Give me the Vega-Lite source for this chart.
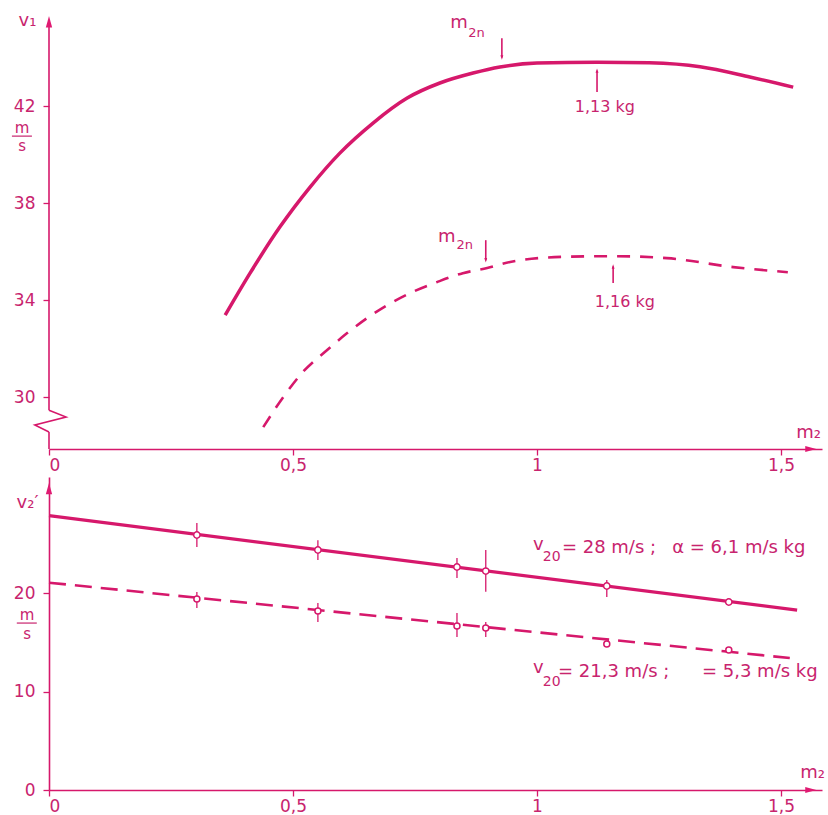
{
  "$schema": "https://vega.github.io/schema/vega-lite/v6.json",
  "padding": {"left": 11, "top": 10, "right": 0, "bottom": 0},
  "spacing": 28,
  "bounds": "flush",
  "config": {
    "view": {"stroke": null},
    "font": "DejaVu Sans",
    "axis": {
      "grid": false,
      "domainColor": "#d6186b",
      "domainWidth": 1.6,
      "tickColor": "#d6186b",
      "tickWidth": 1.3,
      "tickSize": 6,
      "labelColor": "#c8246e",
      "labelFont": "DejaVu Sans",
      "labelFontSize": 17,
      "titleColor": "#c8246e",
      "titleFont": "DejaVu Sans",
      "titleFontSize": 18,
      "titleFontWeight": "normal"
    },
    "text": {"color": "#c8246e", "font": "DejaVu Sans", "fontSize": 15}
  },
  "datasets": {
    "topSolid": [
      {"m2": 0.361, "v": 33.38}, {"m2": 0.412, "v": 35.11}, {"m2": 0.473, "v": 37.01},
      {"m2": 0.535, "v": 38.66}, {"m2": 0.596, "v": 40.06}, {"m2": 0.664, "v": 41.3},
      {"m2": 0.734, "v": 42.33}, {"m2": 0.801, "v": 42.95}, {"m2": 0.869, "v": 43.36},
      {"m2": 0.924, "v": 43.61}, {"m2": 1.0, "v": 43.77}, {"m2": 1.123, "v": 43.81},
      {"m2": 1.23, "v": 43.78}, {"m2": 1.334, "v": 43.62}, {"m2": 1.436, "v": 43.2},
      {"m2": 1.525, "v": 42.78}
    ],
    "topDashed": [
      {"m2": 0.439, "v": 28.76}, {"m2": 0.48, "v": 30.0}, {"m2": 0.52, "v": 31.03},
      {"m2": 0.57, "v": 31.94}, {"m2": 0.611, "v": 32.64}, {"m2": 0.652, "v": 33.26},
      {"m2": 0.693, "v": 33.79}, {"m2": 0.74, "v": 34.29}, {"m2": 0.795, "v": 34.74},
      {"m2": 0.848, "v": 35.11}, {"m2": 0.898, "v": 35.32}, {"m2": 0.945, "v": 35.57},
      {"m2": 1.05, "v": 35.78}, {"m2": 1.156, "v": 35.81}, {"m2": 1.266, "v": 35.73},
      {"m2": 1.402, "v": 35.36}, {"m2": 1.514, "v": 35.15}
    ],
    "topAxisSegments": [
      {"m2": 0, "v": 29.46, "v2": 45.5},
      {"m2": 0, "v": 27.86, "v2": 28.56}
    ],
    "zigzag": [
      {"i": 1, "m2": 0, "v": 29.46}, {"i": 2, "m2": 0.035, "v": 29.18},
      {"i": 3, "m2": -0.029, "v": 28.85}, {"i": 4, "m2": 0, "v": 28.56}
    ],
    "topArrowShafts": [
      {"m2": 0.928, "v": 44.8, "v2": 44.0},
      {"m2": 1.123, "v": 42.58, "v2": 43.46},
      {"m2": 0.895, "v": 36.47, "v2": 35.64},
      {"m2": 1.156, "v": 34.7, "v2": 35.38}
    ],
    "topHeadsDown": [{"m2": 0.928, "v": 44.0}, {"m2": 0.895, "v": 35.64}],
    "topHeadsUp": [{"m2": 1.123, "v": 43.46}, {"m2": 1.156, "v": 35.38}],
    "topM": [
      {"m2": 0.822, "v": 45.42, "t": "m"},
      {"m2": 0.797, "v": 36.6, "t": "m"}
    ],
    "topMSub": [
      {"m2": 0.859, "v": 45.01, "t": "2n"},
      {"m2": 0.835, "v": 36.27, "t": "2n"}
    ],
    "topLabels": [
      {"m2": 1.139, "v": 41.96, "t": "1,13 kg"},
      {"m2": 1.18, "v": 33.92, "t": "1,16 kg"}
    ],
    "topUnit": [
      {"m2": -0.055, "v": 41.09, "t": "m"},
      {"m2": -0.055, "v": 40.35, "t": "s"}
    ],
    "topUnitBar": [{"m2": -0.076, "m2b": -0.035, "v": 40.76}],
    "topYArrow": [{"m2": 0, "v": 45.48}],
    "topXArrow": [{"m2": 1.561, "v": 27.86}],
    "botSolidLine": [{"m2": 0, "v": 27.85}, {"m2": 1.533, "v": 18.27}],
    "botDashedLine": [{"m2": 0, "v": 21.05}, {"m2": 1.518, "v": 13.4}],
    "botSolidPts": [
      {"m2": 0.303, "v": 25.89, "lo": 24.67, "hi": 27.1},
      {"m2": 0.551, "v": 24.37, "lo": 23.35, "hi": 25.35},
      {"m2": 0.836, "v": 22.64, "lo": 21.52, "hi": 23.55},
      {"m2": 0.895, "v": 22.23, "lo": 20.13, "hi": 24.37},
      {"m2": 1.143, "v": 20.71, "lo": 19.6, "hi": 21.32},
      {"m2": 1.393, "v": 19.09, "lo": 19.09, "hi": 19.09}
    ],
    "botDashedPts": [
      {"m2": 0.303, "v": 19.39, "lo": 18.48, "hi": 20.1},
      {"m2": 0.551, "v": 18.17, "lo": 17.06, "hi": 18.98},
      {"m2": 0.836, "v": 16.65, "lo": 15.53, "hi": 17.97},
      {"m2": 0.895, "v": 16.45, "lo": 15.53, "hi": 17.06},
      {"m2": 1.143, "v": 14.82, "lo": 14.82, "hi": 14.82},
      {"m2": 1.393, "v": 14.21, "lo": 14.21, "hi": 14.21}
    ],
    "botV": [
      {"m2": 0.992, "v": 24.87, "t": "v"},
      {"m2": 0.992, "v": 12.39, "t": "v"}
    ],
    "botVSub": [
      {"m2": 1.012, "v": 23.65, "t": "20"},
      {"m2": 1.012, "v": 10.96, "t": "20"}
    ],
    "botLabels": [
      {"m2": 1.051, "v": 24.57, "t": "= 28 m/s ;"},
      {"m2": 1.277, "v": 24.57, "t": "α = 6,1 m/s kg"},
      {"m2": 1.043, "v": 11.98, "t": "= 21,3 m/s ;"},
      {"m2": 1.338, "v": 11.98, "t": "= 5,3 m/s kg"}
    ],
    "botUnit": [
      {"m2": -0.045, "v": 17.8, "t": "m"},
      {"m2": -0.045, "v": 15.84, "t": "s"}
    ],
    "botUnitBar": [{"m2": -0.066, "m2b": -0.025, "v": 16.95}],
    "botYArrow": [{"m2": 0, "v": 30.6}],
    "botXArrow": [{"m2": 1.561, "v": 0}]
  },
  "vconcat": [
    {
      "width": 773,
      "height": 439,
      "encoding": {
        "x": {
          "field": "m2", "type": "quantitative",
          "scale": {"domain": [0, 1.584], "nice": false, "zero": false},
          "axis": {
            "values": [0, 0.5, 1, 1.5],
            "labelExpr": "replace(format(datum.value, '~g'), '.', ',')",
            "labelPadding": 2,
            "title": "m₂",
            "titleX": 759, "titleY": -17, "titleAlign": "center", "titleBaseline": "middle"
          }
        },
        "y": {
          "field": "v", "type": "quantitative",
          "scale": {"domain": [27.86, 45.96], "nice": false, "zero": false},
          "axis": {
            "values": [30, 34, 38, 42],
            "domain": false,
            "labelPadding": 8,
            "title": "v₁",
            "titleAngle": 0, "titleX": -22, "titleY": 10, "titleAlign": "center", "titleBaseline": "middle"
          }
        }
      },
      "layer": [
        {"data": {"name": "topAxisSegments"}, "mark": {"type": "rule", "color": "#d6186b", "strokeWidth": 1.6}, "encoding": {"y2": {"field": "v2"}}},
        {"data": {"name": "zigzag"}, "mark": {"type": "line", "color": "#d6186b", "strokeWidth": 1.6}, "encoding": {"order": {"field": "i", "type": "quantitative"}}},
        {"data": {"name": "topSolid"}, "mark": {"type": "line", "color": "#d6186b", "strokeWidth": 3.5, "interpolate": "monotone"}, "encoding": {}},
        {"data": {"name": "topDashed"}, "mark": {"type": "line", "color": "#d6186b", "strokeWidth": 2.6, "strokeDash": [13, 10], "interpolate": "monotone"}, "encoding": {}},
        {"data": {"name": "topArrowShafts"}, "mark": {"type": "rule", "color": "#d6186b", "strokeWidth": 1.6}, "encoding": {"y2": {"field": "v2"}}},
        {"data": {"name": "topHeadsDown"}, "mark": {"type": "point", "shape": "M0,1L0.65,-1L-0.65,-1Z", "size": 20, "filled": true, "color": "#d6186b", "opacity": 1}},
        {"data": {"name": "topHeadsUp"}, "mark": {"type": "point", "shape": "M0,-1L0.65,1L-0.65,1Z", "size": 20, "filled": true, "color": "#d6186b", "opacity": 1}},
        {"data": {"name": "topYArrow"}, "mark": {"type": "point", "shape": "M0,-1L0.55,1L-0.55,1Z", "size": 132, "filled": true, "color": "#e01a72", "opacity": 1}},
        {"data": {"name": "topXArrow"}, "mark": {"type": "point", "shape": "M1,0L-1,-0.55L-1,0.55Z", "size": 121, "filled": true, "color": "#e01a72", "opacity": 1}},
        {"data": {"name": "topM"}, "mark": {"type": "text", "align": "left", "baseline": "middle", "fontSize": 18}, "encoding": {"text": {"field": "t"}}},
        {"data": {"name": "topMSub"}, "mark": {"type": "text", "align": "left", "baseline": "middle", "fontSize": 13}, "encoding": {"text": {"field": "t"}}},
        {"data": {"name": "topLabels"}, "mark": {"type": "text", "align": "center", "baseline": "middle", "fontSize": 16}, "encoding": {"text": {"field": "t"}}},
        {"data": {"name": "topUnit"}, "mark": {"type": "text", "align": "center", "baseline": "middle", "fontSize": 15}, "encoding": {"text": {"field": "t"}}},
        {"data": {"name": "topUnitBar"}, "mark": {"type": "rule", "color": "#c8246e", "strokeWidth": 1.2}, "encoding": {"x2": {"field": "m2b"}}}
      ]
    },
    {
      "width": 773,
      "height": 313,
      "encoding": {
        "x": {
          "field": "m2", "type": "quantitative",
          "scale": {"domain": [0, 1.584], "nice": false, "zero": false},
          "axis": {
            "values": [0, 0.5, 1, 1.5],
            "labelExpr": "replace(format(datum.value, '~g'), '.', ',')",
            "labelPadding": 2,
            "title": "m₂",
            "titleX": 763, "titleY": -18, "titleAlign": "center", "titleBaseline": "middle"
          }
        },
        "y": {
          "field": "v", "type": "quantitative",
          "scale": {"domain": [0, 31.78], "nice": false, "zero": false},
          "axis": {
            "values": [0, 10, 20],
            "labelPadding": 8,
            "title": "v₂′",
            "titleAngle": 0, "titleX": -22, "titleY": 25, "titleAlign": "center", "titleBaseline": "middle"
          }
        }
      },
      "layer": [
        {"data": {"name": "botSolidLine"}, "mark": {"type": "line", "color": "#d6186b", "strokeWidth": 3.2}, "encoding": {}},
        {"data": {"name": "botDashedLine"}, "mark": {"type": "line", "color": "#d6186b", "strokeWidth": 2.6, "strokeDash": [17, 9]}, "encoding": {}},
        {"data": {"name": "botSolidPts"}, "mark": {"type": "rule", "color": "#d6186b", "strokeWidth": 1.3}, "encoding": {"y": {"field": "lo", "type": "quantitative"}, "y2": {"field": "hi"}}},
        {"data": {"name": "botDashedPts"}, "mark": {"type": "rule", "color": "#d6186b", "strokeWidth": 1.3}, "encoding": {"y": {"field": "lo", "type": "quantitative"}, "y2": {"field": "hi"}}},
        {"data": {"name": "botSolidPts"}, "mark": {"type": "point", "shape": "circle", "size": 40, "filled": false, "fill": "white", "fillOpacity": 1, "stroke": "#d6186b", "strokeWidth": 1.5, "opacity": 1}},
        {"data": {"name": "botDashedPts"}, "mark": {"type": "point", "shape": "circle", "size": 36, "filled": false, "fill": "white", "fillOpacity": 1, "stroke": "#d6186b", "strokeWidth": 1.5, "opacity": 1}},
        {"data": {"name": "botYArrow"}, "mark": {"type": "point", "shape": "M0,-1L0.55,1L-0.55,1Z", "size": 132, "filled": true, "color": "#e01a72", "opacity": 1}},
        {"data": {"name": "botXArrow"}, "mark": {"type": "point", "shape": "M1,0L-1,-0.55L-1,0.55Z", "size": 121, "filled": true, "color": "#e01a72", "opacity": 1}},
        {"data": {"name": "botV"}, "mark": {"type": "text", "align": "left", "baseline": "middle", "fontSize": 18}, "encoding": {"text": {"field": "t"}}},
        {"data": {"name": "botVSub"}, "mark": {"type": "text", "align": "left", "baseline": "middle", "fontSize": 14}, "encoding": {"text": {"field": "t"}}},
        {"data": {"name": "botLabels"}, "mark": {"type": "text", "align": "left", "baseline": "middle", "fontSize": 18}, "encoding": {"text": {"field": "t"}}},
        {"data": {"name": "botUnit"}, "mark": {"type": "text", "align": "center", "baseline": "middle", "fontSize": 15}, "encoding": {"text": {"field": "t"}}},
        {"data": {"name": "botUnitBar"}, "mark": {"type": "rule", "color": "#c8246e", "strokeWidth": 1.2}, "encoding": {"x2": {"field": "m2b"}}}
      ]
    }
  ]
}
